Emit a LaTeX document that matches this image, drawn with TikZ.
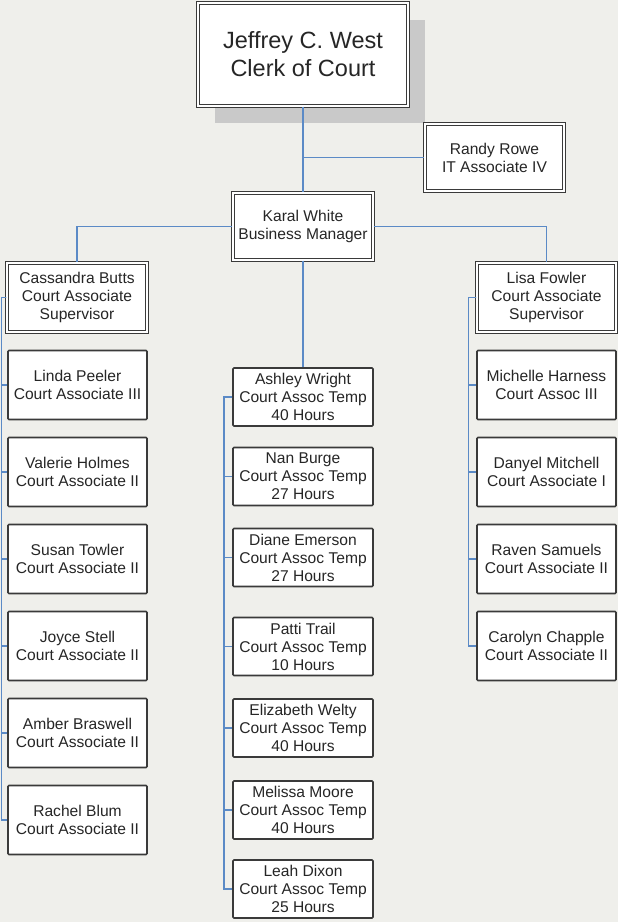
\documentclass[tikz,border=0pt]{standalone}
\usepackage{fontspec}
\setmainfont{Liberation Sans}
\usetikzlibrary{positioning,shadows}

\definecolor{linkblue}{HTML}{5B8AC6}
\definecolor{boxgray}{HTML}{3A3A3A}
\definecolor{textgray}{HTML}{262626}
\definecolor{backgray}{HTML}{EFEFEB}
\definecolor{shadowgray}{HTML}{C9C9C9}

\tikzset{%
  every box/.style={
    draw=boxgray,
    fill=white,
    text=textgray,
    line width=1.6pt,
    rounded corners=1pt,
    minimum width=139pt,
    minimum height=69pt,
    inner sep=1pt,
    align=center,
    font=\fontsize{15.6}{18}\selectfont
  },
  box double/.style={
    line width=1.3pt,
    double=white,
    double distance=1.7pt,
    rounded corners=0pt
  },
  box temp/.style={
    minimum height=58pt
  },
  link/.style={
    draw=linkblue,
    line width=1.5pt
  },
}

\begin{document}
\begin{tikzpicture}[x=1pt, y=-1pt]

\useasboundingbox (0,0) rectangle (618,922);
\fill[backgray] (0,0) rectangle (618,922);

% top of the chart
\node [every box/.try, box double, minimum width=210pt, minimum height=103pt,
  font=\fontsize{23.5}{28}\selectfont,
  drop shadow={shadow xshift=17pt, shadow yshift=-17pt, fill=shadowgray, opacity=1}]
  (clerk) at (303,54.5) {Jeffrey C. West\\Clerk of Court};

\node [every box/.try, box double, minimum height=67pt] (rowe) at (494.5,157.5)
  {Randy Rowe\\IT Associate IV};

\node [every box/.try, box double, minimum width=140pt, minimum height=67pt] (karal) at (303,226.5)
  {Karal White\\Business Manager};

% supervisors
\node [every box/.try, box double, minimum width=140pt] (sup-left) at (77,297.5)
  {Cassandra Butts\\Court Associate\\Supervisor};
\node [every box/.try, box double] (sup-right) at (546.5,297.5)
  {Lisa Fowler\\Court Associate\\Supervisor};

% left column
\foreach \n/\t [count=\i] in {Linda Peeler/Court Associate III,
    Valerie Holmes/Court Associate II, Susan Towler/Court Associate II,
    Joyce Stell/Court Associate II, Amber Braswell/Court Associate II,
    Rachel Blum/Court Associate II}
  \node [every box/.try] (left-\i) at (77.5,298+\i*87) {\n\\\t};

% middle column
\foreach \n/\h/\y [count=\i] in {Ashley Wright/40/397, Nan Burge/27/476.5,
    Diane Emerson/27/557.5, Patti Trail/10/646.5, Elizabeth Welty/40/728,
    Melissa Moore/40/810, Leah Dixon/25/889}
  \node [every box/.try, box temp, minimum width=140pt] (mid-\i) at (303,\y)
    {\n\\Court Assoc Temp\\\h{} Hours};

% right column
\foreach \n/\t [count=\i] in {Michelle Harness/Court Assoc III,
    Danyel Mitchell/Court Associate I, Raven Samuels/Court Associate II,
    Carolyn Chapple/Court Associate II}
  \node [every box/.try] (right-\i) at (546.5,298+\i*87) {\n\\\t};

% connectors
\draw [link] (clerk.south) -- (karal.north);
\draw [link] (clerk.south |- rowe.west) -- (rowe.west);
\draw [link] (karal.west) -| (sup-left.north);
\draw [link] (karal.east) -| (sup-right.north);
\draw [link] (karal.south) -- (mid-1.north);

\foreach \i in {1,...,6}
  \draw [link] (sup-left.west) -- ++(-5,0) |- (left-\i.west);

\foreach \i in {2,...,7}
  \draw [link] (mid-1.west) -- ++(-8,0) |- (mid-\i.west);

\foreach \i in {1,...,4}
  \draw [link] (sup-right.west) -- ++(-8,0) |- (right-\i.west);

\end{tikzpicture}
\end{document}
